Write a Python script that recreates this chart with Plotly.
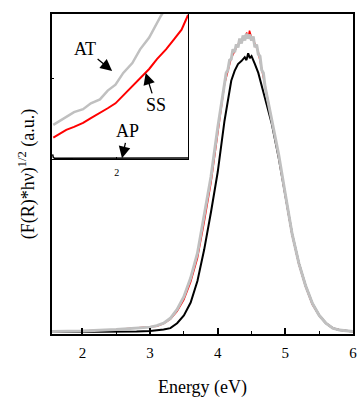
import plotly.graph_objects as go

# ---------------- main panel data (a.u.) ----------------
energy_ap = [1.55, 2.0, 2.5, 2.8, 3.0, 3.1, 3.2, 3.3, 3.4, 3.5, 3.6, 3.7, 3.8, 3.9, 4.0,
             4.1, 4.2, 4.25, 4.3, 4.35, 4.4, 4.425, 4.45, 4.475, 4.5, 4.55, 4.6, 4.7,
             4.8, 4.9, 5.0, 5.1, 5.2, 5.3, 5.4, 5.5, 5.6, 5.7, 5.8, 5.9, 6.0]
ap = [0, 0, 0.3, 0.5, 1, 1.5, 2.5, 4, 9, 17, 30, 52, 84, 122, 163,
      215, 256, 266, 273, 276, 280, 277, 284, 279, 281, 273, 264, 238,
      212, 178, 138, 100, 70, 47, 29, 17, 9, 4, 2, 1, 0.5]

energy_ss = [1.55, 2.0, 2.5, 2.8, 3.0, 3.1, 3.2, 3.3, 3.4, 3.5, 3.6, 3.7, 3.8, 3.9, 4.0,
             4.1, 4.2, 4.3, 4.35, 4.4, 4.43, 4.45, 4.47, 4.5, 4.55, 4.6, 4.7,
             4.8, 4.9, 5.0, 5.1, 5.2, 5.3, 5.4, 5.5, 5.6, 5.7, 5.8, 5.9, 6.0]
ss = [0.5, 1, 2.5, 4, 5, 6, 8.5, 13, 21, 33, 51, 75, 112, 152, 202,
      252, 279, 293, 298, 301, 305, 299, 307, 300, 294, 285, 251,
      216, 180, 139, 99, 69, 46, 28, 17, 9, 4, 2, 1, 0.5]

energy_at = [1.55, 2.0, 2.5, 2.8, 3.0, 3.1, 3.2, 3.3, 3.4, 3.5, 3.6, 3.7, 3.8, 3.9, 4.0,
             4.1, 4.125, 4.15, 4.175, 4.2, 4.225, 4.25, 4.275, 4.3, 4.325, 4.35, 4.375,
             4.4, 4.425, 4.45, 4.475, 4.5, 4.525, 4.55, 4.575, 4.6, 4.625, 4.65, 4.675,
             4.7, 4.8, 4.9, 5.0, 5.1, 5.2, 5.3, 5.4, 5.5, 5.6, 5.7, 5.8, 5.9, 6.0]
at = [0.5, 1, 2.5, 4, 5, 6.5, 9, 14, 23, 36, 55, 80, 118, 158, 208,
      256, 264, 267, 277, 278, 288, 285, 293, 290, 299, 294, 302,
      297, 304, 299, 303, 297, 301, 290, 293, 283, 281, 267, 264,
      250, 217, 181, 140, 100, 70, 47, 29, 17, 9, 4, 2, 1, 0.5]

# ---------------- inset data (magnified low-energy region) ----------------
inset_energy_at = [1.51, 1.56, 1.61, 1.67, 1.74, 1.80, 1.87, 1.93, 1.99, 2.05, 2.12, 2.18,
                   2.25, 2.30, 2.34, 2.37]
inset_at = [35, 39, 43, 48, 51, 57, 61, 70, 76, 88, 98, 112, 124, 137, 146, 152]

inset_energy_ss = [1.51, 1.56, 1.61, 1.67, 1.74, 1.80, 1.87, 1.93, 1.99, 2.05, 2.12, 2.18,
                   2.25, 2.31, 2.38, 2.44, 2.50, 2.55]
inset_ss = [22, 26, 30, 33, 37, 42, 47, 52, 57, 65, 74, 83, 92, 102, 112, 122, 132, 147]

inset_energy_ap = [1.505, 1.51, 1.52, 1.6, 2.0, 2.55]
inset_ap = [5, 2, 1, 1, 1, 1.2]

x_ticks = [2, 3, 4, 5, 6]
x_minor = [2.5, 3.5, 4.5, 5.5]

FONT = "Liberation Serif"

fig = go.Figure()
fig.add_trace(go.Scatter(x=energy_ap, y=ap, mode="lines", name="AP",
                         line=dict(color="black", width=2)))
fig.add_trace(go.Scatter(x=energy_ss, y=ss, mode="lines", name="SS",
                         line=dict(color="red", width=1.5)))
fig.add_trace(go.Scatter(x=energy_at, y=at, mode="lines", name="AT",
                         line=dict(color="#c0c0c0", width=3)))

fig.add_trace(go.Scatter(x=inset_energy_ap, y=inset_ap, mode="lines", xaxis="x2", yaxis="y2",
                         line=dict(color="black", width=1.5), showlegend=False))
fig.add_trace(go.Scatter(x=inset_energy_at, y=inset_at, mode="lines", xaxis="x2", yaxis="y2",
                         line=dict(color="#c0c0c0", width=2.5), showlegend=False))
fig.add_trace(go.Scatter(x=inset_energy_ss, y=inset_ss, mode="lines", xaxis="x2", yaxis="y2",
                         line=dict(color="red", width=2), showlegend=False))

fig.update_layout(
    width=362, height=399,
    margin=dict(l=52, r=5, t=14, b=59),
    paper_bgcolor="white", plot_bgcolor="white",
    showlegend=False,
    font=dict(family=FONT, color="black", size=15),
    xaxis=dict(
        range=[1.55, 6.0], tickvals=x_ticks, ticks="inside", ticklen=6, tickwidth=1.5,
        tickcolor="black", showline=True, linewidth=2, linecolor="black", mirror=True,
        showgrid=False, zeroline=False, tickfont=dict(size=15, family=FONT),
        ticklabelstandoff=4,
        minor=dict(tickvals=x_minor, ticks="inside", ticklen=3, tickwidth=1.2, tickcolor="black"),
        title=dict(text="Energy (eV)", font=dict(size=18, family=FONT), standoff=20),
    ),
    yaxis=dict(
        range=[-2, 324], showticklabels=False, ticks="", showline=True, linewidth=2,
        linecolor="black", mirror=True, showgrid=False, zeroline=False,
        title=dict(text="(F(R)*hν)<sup>1/2</sup> (a.u.)", font=dict(size=18, family=FONT),
                   standoff=11),
    ),
    xaxis2=dict(
        domain=[0, 0.452], anchor="y2", range=[1.5, 2.55], tickvals=[2], ticks="inside",
        ticklen=2, tickcolor="black", showline=True, linewidth=1.2, linecolor="black",
        mirror=True, showgrid=False, zeroline=False, tickfont=dict(size=10, family=FONT),
        ticklabelstandoff=4,
    ),
    yaxis2=dict(
        domain=[0.546, 1], anchor="x2", range=[0, 148], tickvals=[82], ticks="inside",
        ticklen=2, tickcolor="black", showticklabels=False, showline=True, linewidth=1.2,
        linecolor="black", mirror=True, showgrid=False, zeroline=False,
    ),
    shapes=[dict(type="rect", xref="paper", yref="paper", x0=0, x1=0.452, y0=0.546, y1=1,
                 fillcolor="white", line=dict(width=0), layer="below")],
    annotations=[
        dict(x=1.964, y=90, xref="x2", yref="y2", text="AT", showarrow=True,
             ax=-27, ay=-22, arrowhead=2, arrowsize=1.8, arrowwidth=1.3, arrowcolor="black",
             font=dict(size=18, family=FONT)),
        dict(x=2.223, y=88, xref="x2", yref="y2", text="SS", showarrow=True,
             ax=10, ay=32, arrowhead=2, arrowsize=1.8, arrowwidth=1.3, arrowcolor="black",
             font=dict(size=18, family=FONT)),
        dict(x=2.04, y=1, xref="x2", yref="y2", text="AP", showarrow=True,
             ax=6, ay=-27, arrowhead=2, arrowsize=1.8, arrowwidth=1.3, arrowcolor="black",
             font=dict(size=18, family=FONT)),
    ],
)

fig.write_html("out.html")
